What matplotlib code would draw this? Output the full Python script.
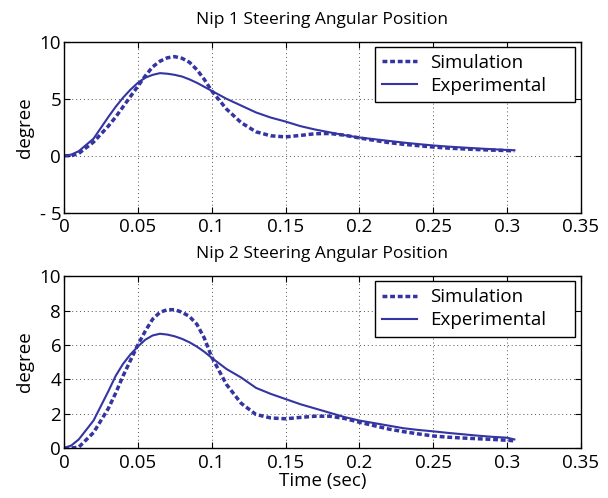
import matplotlib
matplotlib.use("Agg")
import matplotlib.pyplot as plt

# time samples (sec)
t = [0, 0.005, 0.01, 0.02, 0.03, 0.035, 0.04, 0.045, 0.05, 0.055, 0.06, 0.065, 0.07,
     0.075, 0.08, 0.085, 0.09, 0.095, 0.10, 0.11, 0.12, 0.13, 0.14, 0.15, 0.16,
     0.17, 0.18, 0.19, 0.20, 0.21, 0.22, 0.23, 0.24, 0.25, 0.26, 0.27, 0.28,
     0.29, 0.30, 0.305]

# Nip 1
sim1 = [0, 0.0, 0.2, 1.2, 2.6, 3.4, 4.3, 5.2, 6.1, 7.0, 7.8, 8.3, 8.6,
        8.7, 8.55, 8.2, 7.55, 6.7, 5.7, 4.1, 2.9, 2.1, 1.75, 1.65, 1.78,
        1.93, 1.95, 1.8, 1.56, 1.35, 1.15, 1.0, 0.88, 0.76, 0.67, 0.6, 0.54,
        0.49, 0.45, 0.43]
exp1 = [0, 0.1, 0.4, 1.5, 3.4, 4.3, 5.1, 5.8, 6.4, 6.85, 7.1, 7.25, 7.2,
        7.1, 6.95, 6.7, 6.4, 6.05, 5.7, 5.0, 4.4, 3.8, 3.35, 3.0, 2.6,
        2.3, 2.05, 1.8, 1.6, 1.45, 1.3, 1.15, 1.02, 0.9, 0.8, 0.72, 0.64,
        0.57, 0.5, 0.48]

# Nip 2
sim2 = [0, 0.0, 0.05, 0.9, 2.3, 3.2, 4.2, 5.1, 6.0, 6.8, 7.5, 7.9, 8.05,
        8.05, 7.9, 7.65, 7.2, 6.4, 5.3, 3.7, 2.6, 1.95, 1.75, 1.7, 1.78,
        1.85, 1.85, 1.72, 1.5, 1.3, 1.1, 0.95, 0.82, 0.7, 0.63, 0.58, 0.54,
        0.5, 0.45, 0.42]
exp2 = [0, 0.15, 0.5, 1.6, 3.3, 4.2, 4.9, 5.45, 5.9, 6.3, 6.55, 6.65, 6.6,
        6.5, 6.35, 6.15, 5.9, 5.6, 5.25, 4.6, 4.1, 3.5, 3.15, 2.85, 2.55,
        2.3, 2.05, 1.8, 1.6, 1.45, 1.3, 1.15, 1.05, 0.97, 0.88, 0.8, 0.72,
        0.65, 0.6, 0.5]

xticks = [0, 0.05, 0.1, 0.15, 0.2, 0.25, 0.3, 0.35]
xticklabels = ["0", "0.05", "0.1", "0.15", "0.2", "0.25", "0.3", "0.35"]
yticks1 = [-5, 0, 5, 10]
yticklabels1 = ["- 5", "0", "5", "10"]
yticks2 = [0, 2, 4, 6, 8, 10]

color = "#3434a2"
dots = (0, (1.4, 0.8))
plt.rcParams["font.family"] = ["Open Sans", "DejaVu Sans"]

fig = plt.figure(figsize=(6.08, 4.98), dpi=100)
ax1 = fig.add_axes([0.1053, 0.573, 0.850, 0.343])
ax2 = fig.add_axes([0.1053, 0.1004, 0.850, 0.345])


def style(ax, title, yticks, yticklabels, ylim):
    ax.set_xlim(0, 0.35)
    ax.set_ylim(*ylim)
    ax.set_xticks(xticks)
    ax.set_xticklabels(xticklabels)
    ax.set_yticks(yticks)
    ax.set_yticklabels(yticklabels)
    ax.tick_params(direction="in", top=True, right=True, labelsize=13.5,
                   length=4, width=0.8, pad=2)
    ax.tick_params(axis="x", pad=4)
    ax.grid(True, linestyle=(0, (1, 3)), color="#555555", linewidth=0.7)
    for s in ax.spines.values():
        s.set_linewidth(1.0)
    ax.set_title(title, fontsize=12.5, pad=13)
    ax.set_ylabel("degree", fontsize=13.5, labelpad=4)
    ax.legend(loc="upper left", bbox_to_anchor=(0.6015, 0.9725, 0.387, 0.0),
              mode="expand", borderaxespad=0, fontsize=13.5, fancybox=False,
              framealpha=1, edgecolor="black", handlelength=1.85,
              handletextpad=0.7, borderpad=0.4, labelspacing=0.25)


ax1.plot(t, sim1, linestyle=dots, linewidth=2.5, color=color, label="Simulation")
ax1.plot(t, exp1, linestyle="-", linewidth=1.5, color=color, label="Experimental")
style(ax1, "Nip 1 Steering Angular Position", yticks1, yticklabels1, (-5, 10))

ax2.plot(t, sim2, linestyle=dots, linewidth=2.5, color=color, label="Simulation")
ax2.plot(t, exp2, linestyle="-", linewidth=1.5, color=color, label="Experimental")
style(ax2, "Nip 2 Steering Angular Position", yticks2, [str(v) for v in yticks2], (0, 10))
ax2.set_xlabel("Time (sec)", fontsize=13.5, labelpad=0)

fig.savefig("out.png", dpi=100)
plt.close(fig)
